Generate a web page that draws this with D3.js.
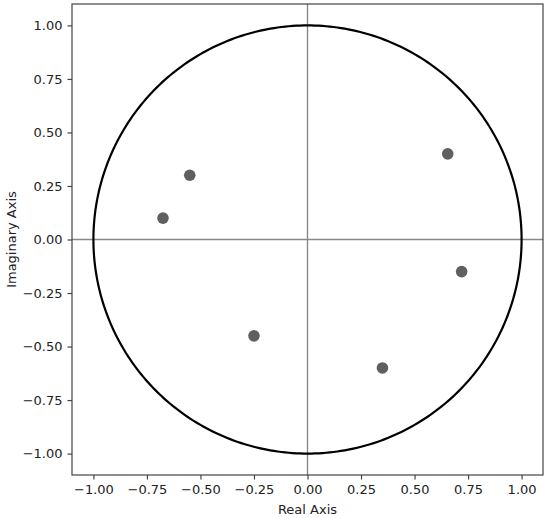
<!DOCTYPE html>
<html>
<head>
<meta charset="utf-8">
<script src="https://cdn.jsdelivr.net/npm/d3@7"></script>
<style>
  body { margin: 0; background: #fff; }
  text { font-family: "DejaVu Sans", sans-serif; fill: #222; }
</style>
</head>
<body>
<div id="canvas"></div>
<script>
// poles / roots (real, imaginary)
const realParts = [-0.55, -0.675, -0.25, 0.35, 0.655, 0.72];
const imagParts = [0.30, 0.10, -0.45, -0.60, 0.40, -0.15];
const tickValues = [-1.0, -0.75, -0.5, -0.25, 0.0, 0.25, 0.5, 0.75, 1.0];

const width = 550, height = 518;
const margin = {top: 4, right: 7, bottom: 43, left: 72};

let svg = d3.select("#canvas").append("svg")
    .attr("width", width)
    .attr("height", height)

let x = d3.scaleLinear().domain([-1.1, 1.1]).range([margin.left, width - margin.right])
let y = d3.scaleLinear().domain([-1.1, 1.1]).range([height - margin.bottom, margin.top])

// zero lines
svg.append("line")
    .attr("x1", x(-1.1)).attr("x2", x(1.1))
    .attr("y1", y(0)).attr("y2", y(0))
    .attr("stroke", "#888").attr("stroke-width", 1.4)
svg.append("line")
    .attr("x1", x(0)).attr("x2", x(0))
    .attr("y1", y(-1.1)).attr("y2", y(1.1))
    .attr("stroke", "#888").attr("stroke-width", 1.4)

// unit circle
const circlePts = d3.range(0, 361).map(a => [Math.cos(a * Math.PI / 180), Math.sin(a * Math.PI / 180)])
svg.append("path")
    .attr("d", d3.line().x(d => x(d[0])).y(d => y(d[1]))(circlePts))
    .attr("fill", "none")
    .attr("stroke", "#000")
    .attr("stroke-width", 2.2)

svg.selectAll("pts")
    .data(realParts)
    .enter().append("circle")
    .attr("cx", d => x(d))
    .attr("cy", (d, i) => y(imagParts[i]))
    .attr("r", 5.8)
    .attr("fill", "#5f5f5f")

// axes
const fmt = d => d3.format(".2f")(d).replace("-", "\u2212")
let xAxis = svg.append("g")
    .attr("transform", `translate(0,${height - margin.bottom})`)
    .call(d3.axisBottom(x).tickValues(tickValues).tickSize(4.5).tickPadding(5).tickFormat(fmt))
let yAxis = svg.append("g")
    .attr("transform", `translate(${margin.left},0)`)
    .call(d3.axisLeft(y).tickValues(tickValues).tickSize(4.5).tickPadding(5).tickFormat(fmt))

for (const g of [xAxis, yAxis]) {
    g.select(".domain").remove()
    g.selectAll(".tick line").attr("stroke", "#444").attr("stroke-width", 1.2)
    g.selectAll(".tick text").style("font-size", "13px").attr("fill", "#222")
}

// frame
svg.append("rect")
    .attr("x", margin.left).attr("y", margin.top)
    .attr("width", width - margin.left - margin.right)
    .attr("height", height - margin.top - margin.bottom)
    .attr("fill", "none")
    .attr("stroke", "#444")
    .attr("stroke-width", 1.2)

svg.append("text")
    .attr("x", x(0)).attr("y", 514)
    .attr("text-anchor", "middle")
    .style("font-size", "13px")
    .text("Real Axis")

svg.append("text")
    .attr("transform", `translate(16,${y(0)}) rotate(-90)`)
    .attr("text-anchor", "middle")
    .style("font-size", "13px")
    .text("Imaginary Axis")
</script>
</body>
</html>
